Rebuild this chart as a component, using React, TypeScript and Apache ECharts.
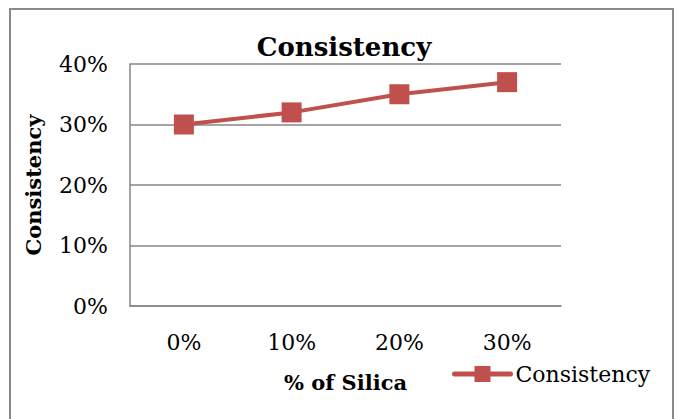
import React, { useEffect, useRef } from "react";
import * as echarts from "echarts";

const categories = ["0%", "10%", "20%", "30%"];
const consistency = [0.30, 0.32, 0.35, 0.37];
const yTicks = [0, 0.1, 0.2, 0.3, 0.4];

const SERIF = "'DejaVu Serif', 'Liberation Serif', serif";
const GRAY = "#868686";
const RED = "#C0504D";

export default function App() {
  const ref = useRef<HTMLDivElement>(null);
  useEffect(() => {
    if (!ref.current) return;
    const chart = echarts.init(ref.current, null, { renderer: "svg" });
    chart.setOption({
      animation: false,
      backgroundColor: "#fff",
      graphic: [
        {
          type: "rect",
          shape: { x: 10, y: 9, width: 663, height: 420 },
          style: { fill: "none", stroke: "#8a8a8a", lineWidth: 2 },
          silent: true,
        },
        {
          type: "text",
          x: 344,
          y: 47,
          style: {
            text: "Consistency",
            font: `bold 26px ${SERIF}`,
            fill: "#000",
            textAlign: "center",
            textVerticalAlign: "middle",
          },
        },
      ],
      legend: {
        data: ["Consistency"],
        left: 447,
        top: 358,
        itemWidth: 56,
        itemHeight: 20,
        lineStyle: { width: 5, cap: "round" },
        textStyle: { fontFamily: SERIF, fontSize: 22, color: "#000" },
      },
      grid: { left: 130, right: 117, top: 64, bottom: 113, containLabel: false },
      xAxis: {
        type: "category",
        data: categories,
        boundaryGap: true,
        name: "% of Silica",
        nameLocation: "middle",
        nameGap: 66,
        nameTextStyle: { fontFamily: SERIF, fontSize: 21, fontWeight: "bold", color: "#000" },
        axisLine: { show: true, lineStyle: { color: GRAY, width: 1.5 } },
        axisTick: { show: false },
        axisLabel: { fontFamily: SERIF, fontSize: 22, color: "#000", margin: 25 },
      },
      yAxis: {
        type: "value",
        min: yTicks[0],
        max: yTicks[yTicks.length - 1],
        interval: 0.1,
        name: "Consistency",
        nameLocation: "middle",
        nameGap: 86,
        nameRotate: 90,
        nameTextStyle: { fontFamily: SERIF, fontSize: 21, fontWeight: "bold", color: "#000" },
        axisLine: { show: true, lineStyle: { color: GRAY, width: 1.5 } },
        axisTick: { show: false },
        splitLine: { show: true, lineStyle: { color: GRAY, width: 1.5 } },
        axisLabel: {
          fontFamily: SERIF,
          fontSize: 22,
          color: "#000",
          margin: 22,
          formatter: (v: number) => `${Math.round(v * 100)}%`,
        },
      },
      series: [
        {
          name: "Consistency",
          type: "line",
          data: consistency,
          symbol: "rect",
          symbolSize: 20,
          itemStyle: { color: RED },
          lineStyle: { color: RED, width: 4 },
        },
      ],
    });
    return () => chart.dispose();
  }, []);
  return (
    <div
      ref={ref}
      style={{ position: "fixed", left: 0, top: 0, width: 678, height: 419 }}
    />
  );
}
